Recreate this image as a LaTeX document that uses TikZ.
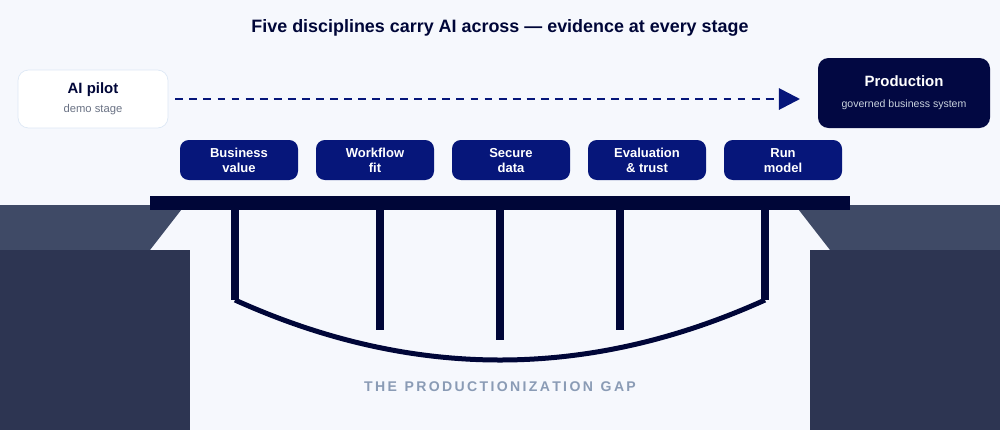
\documentclass[tikz,border=0pt]{standalone}
\usepackage{fontspec}
\setmainfont{Liberation Sans}
\usetikzlibrary{arrows.meta}

\definecolor{pagebg}{HTML}{F6F8FD}
\definecolor{cliffhi}{HTML}{3F4A66}
\definecolor{clifflo}{HTML}{2D3552}
\definecolor{deepnavy}{HTML}{000638}
\definecolor{pillblue}{HTML}{06167A}
\definecolor{prodnavy}{HTML}{020842}
\definecolor{pilotedge}{HTML}{DDE8F5}
\definecolor{subgray}{HTML}{6B7385}
\definecolor{gapgray}{HTML}{8A9BB5}

\newcommand\pillrows[2]{\vphantom{Afl}#1\\#2}

\tikzset{
  pill/.style={fill=pillblue, rounded corners=5pt, minimum width=118*0.02cm,
    minimum height=40*0.02cm, text=white, font=\fontsize{7.4}{8.6}\selectfont\bfseries,
    align=center, inner sep=0pt},
  beam/.style={line width=8*0.02cm, deepnavy},
}

\begin{document}
\begin{tikzpicture}[x=0.02cm, y=-0.02cm]
	\fill[pagebg] (0,0) rectangle (1000,430);
	\useasboundingbox (0,0) rectangle (1000,430);

	% cliffs
	\fill[cliffhi] (0,205) -- (185,205) -- (150,250) -- (0,250) -- cycle;
	\fill[clifflo] (0,250) rectangle (190,430);
	\fill[cliffhi] (1000,205) -- (795,205) -- (830,250) -- (1000,250) -- cycle;
	\fill[clifflo] (810,250) rectangle (1000,430);

	\node[font=\fontsize{10.2}{12}\selectfont\bfseries, text=deepnavy] (title) at (500,28)
		{Five disciplines carry AI across — evidence at every stage};

	% end points
	\node[draw=pilotedge, fill=white, rounded corners=6pt, minimum width=150*0.02cm,
		minimum height=58*0.02cm, align=center, inner sep=0pt] (pilot) at (93,99)
		{{\fontsize{8.5}{10}\selectfont\bfseries\color{deepnavy}AI pilot}\\[-1pt]
		 {\fontsize{6.4}{8}\selectfont\color{subgray}demo stage}};
	\node[fill=prodnavy, rounded corners=6pt, minimum width=172*0.02cm,
		minimum height=70*0.02cm, align=center, inner sep=0pt] (prod) at (904,93)
		{{\fontsize{8.5}{10}\selectfont\bfseries\color{white}Production}\\[0pt]
		 {\fontsize{6}{7}\selectfont\color{pilotedge!80!gray}governed business system}};
	\coordinate (arrowend) at (800,99);
	\draw[pillblue, line width=1.6pt, dash pattern=on 4.5pt off 3.5pt,
		-{Triangle[length=12pt,width=12pt]}] (pilot.east) ++(7,0) -- (arrowend);

	% disciplines
	\node[pill] (value) at (239,160) {\pillrows{Business}{value}};
	\node[pill] (workflow) at (375,160) {\pillrows{Workflow}{fit}};
	\node[pill] (data) at (511,160) {\pillrows{Secure}{data}};
	\node[pill] (trust) at (647,160) {\pillrows{Evaluation}{\& trust}};
	\node[pill] (model) at (783,160) {\pillrows{Run}{model}};

	% bridge
	\fill[deepnavy] (150,196) rectangle (850,210);
	\draw[beam] (235,210) -- (235,300);
	\draw[beam] (380,210) -- (380,330);
	\draw[beam] (500,210) -- (500,340);
	\draw[beam] (620,210) -- (620,330);
	\draw[beam] (765,210) -- (765,300);
	\draw[line width=5*0.02cm, deepnavy] (235,300) .. controls (412,380) and (588,380) .. (765,300);

	\node[font=\fontsize{8}{10}\selectfont\bfseries, text=gapgray] (gap) at (500,387)
		{T\,H\,E\ \ P\,R\,O\,D\,U\,C\,T\,I\,O\,N\,I\,Z\,A\,T\,I\,O\,N\ \ G\,A\,P};
\end{tikzpicture}
\end{document}
